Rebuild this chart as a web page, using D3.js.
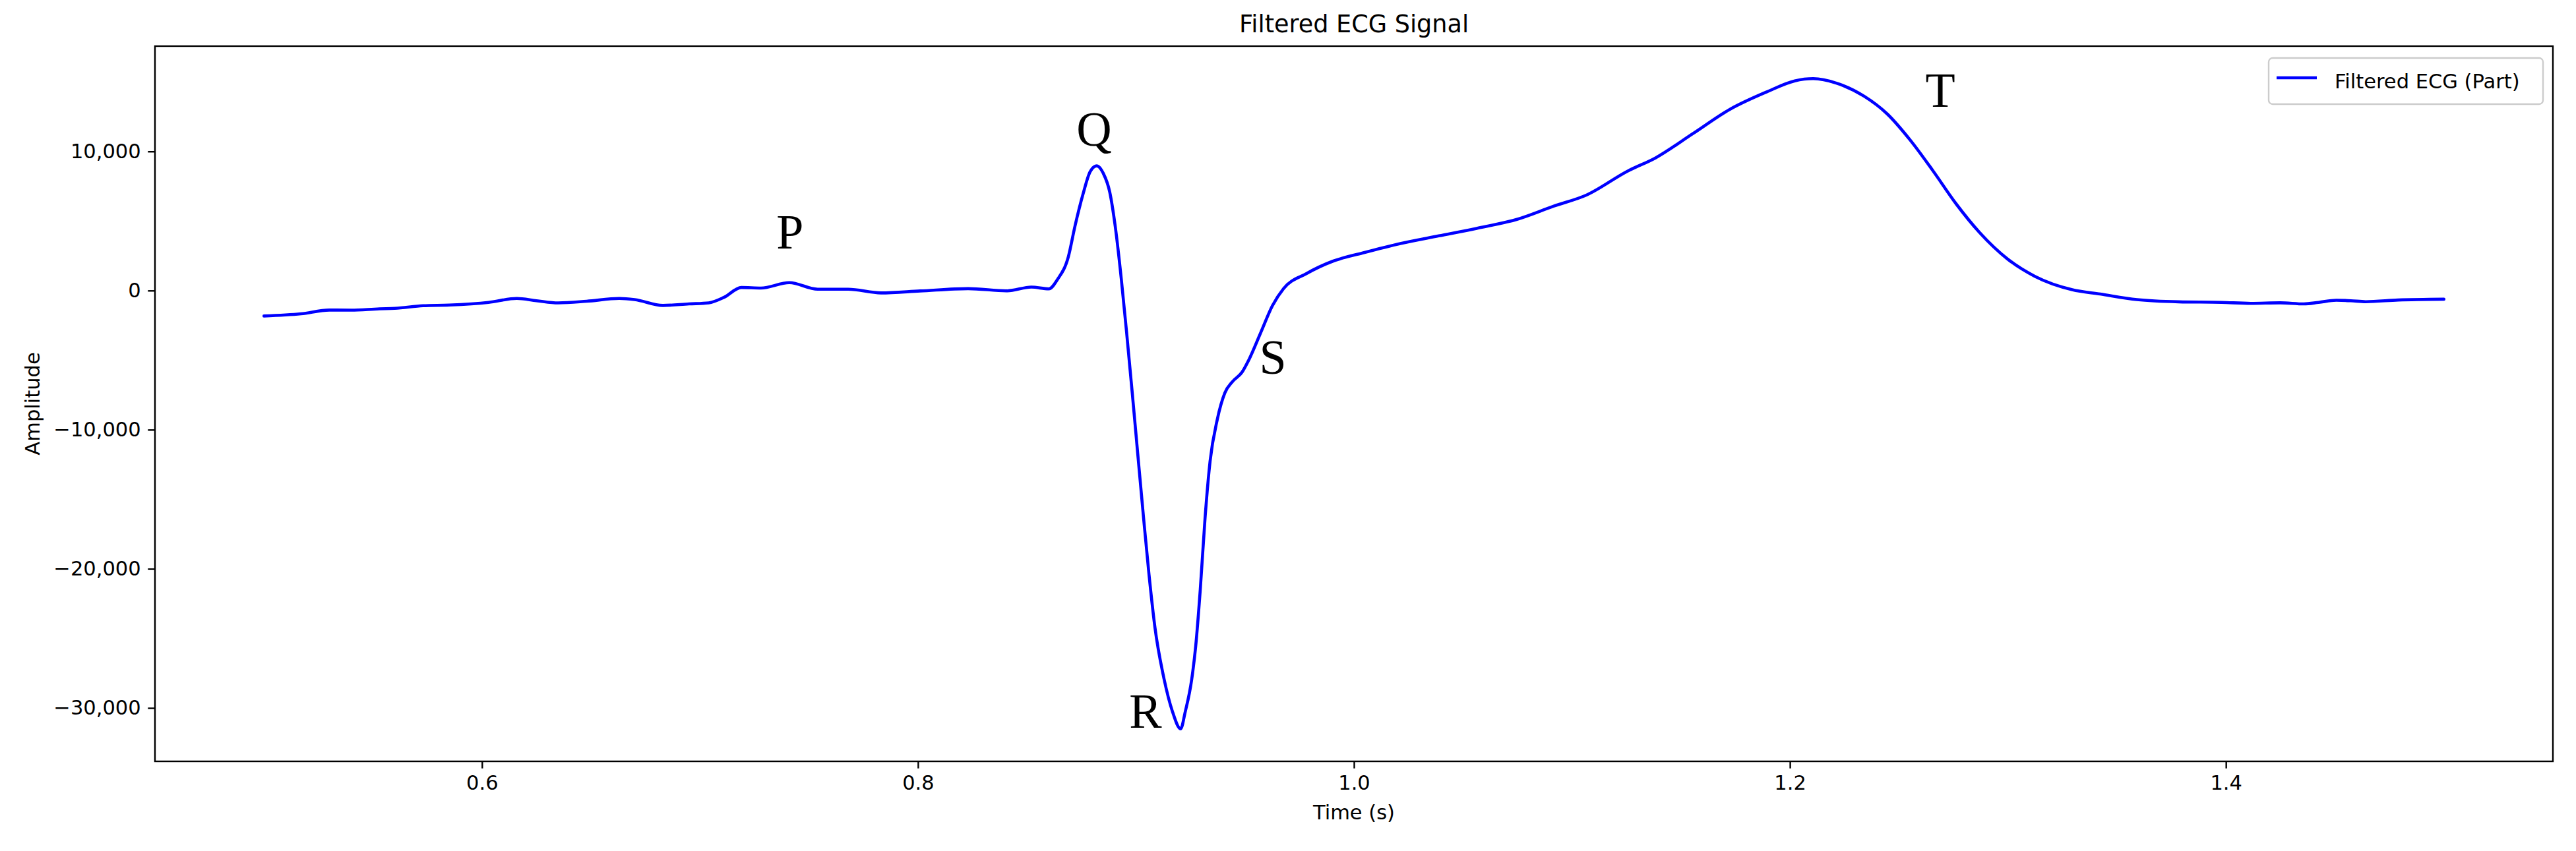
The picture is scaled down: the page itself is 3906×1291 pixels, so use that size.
<!DOCTYPE html>
<html>
<head>
<meta charset="utf-8">
<script src="https://cdn.jsdelivr.net/npm/d3@7"></script>
<style>
  html, body { margin: 0; padding: 0; background: #ffffff; }
  svg { display: block; }
  text { font-family: "DejaVu Sans", sans-serif; fill: #000; }
</style>
</head>
<body>
<svg id="chart" width="3906" height="1291"></svg>
<script>
// ---- data ----
const time = [
  0.500, 0.517, 0.530, 0.540, 0.553, 0.560, 0.573, 0.585, 0.603, 0.616,
  0.625, 0.635, 0.648, 0.663, 0.670, 0.683, 0.695, 0.704, 0.711, 0.719,
  0.728, 0.741, 0.754, 0.768, 0.783, 0.801, 0.823, 0.841, 0.852, 0.860,
  0.864, 0.869, 0.872, 0.8757, 0.879, 0.882, 0.885, 0.888, 0.8905, 0.8933,
  0.8957, 0.8983, 0.9008, 0.9035, 0.906, 0.9087, 0.9129, 0.9168, 0.9205, 0.9226,
  0.9256, 0.9274, 0.9295, 0.9317, 0.9340, 0.9373, 0.9408, 0.9443, 0.9486, 0.952,
  0.9573, 0.9626, 0.9677, 0.9781, 0.9903, 1.004, 1.0216, 1.0389, 1.0563, 1.0748,
  1.0917, 1.1066, 1.1256, 1.1384, 1.1555, 1.1724, 1.1894, 1.2022, 1.2107, 1.2213,
  1.234, 1.2446, 1.2552, 1.2657, 1.2763, 1.287, 1.2998, 1.3125, 1.3295, 1.3423,
  1.3592, 1.3783, 1.398, 1.4114, 1.4249, 1.4358, 1.4425, 1.4506, 1.4573, 1.4641,
  1.479, 1.500
];
const amplitude = [
  -1830, -1670, -1400, -1410, -1310, -1280, -1090, -1040, -850, -570,
  -730, -885, -770, -570, -650, -1070, -960, -885, -490, 220,
  180, 570, 95, 95, -170, -30, 140, -20, 250, 120,
  800, 2440, 4610, 6920, 8550, 8960, 8430, 7060, 4610, 800,
  -2990, -7350, -11700, -16350, -20430, -24200, -27920, -30280, -31500, -30280,
  -27920, -25570, -21500, -16350, -12270, -9270, -7350, -6540, -5880, -4910,
  -3000, -1090, 140, 1210, 2110, 2700, 3390, 3930, 4470, 5120,
  6070, 6860, 8590, 9540, 11280, 13020, 14280, 15070, 15230, 14910,
  13970, 12700, 10810, 8590, 6220, 4170, 2270, 1010, 60, -250,
  -650, -810, -850, -920, -880, -960, -850, -700, -730, -800,
  -680, -620
];
const xTicks = [0.6, 0.8, 1.0, 1.2, 1.4];
const yTicks = [-30000, -20000, -10000, 0, 10000];
const waveLabels = ["P", "Q", "R", "S", "T"];
const waveLabelTime = [0.7413, 0.8808, 0.9044, 0.9628, 1.269];
const waveLabelAmp = [3000, 10400, -31400, -6000, 13200];
const titleText = "Filtered ECG Signal";
const xLabelText = "Time (s)";
const yLabelText = "Amplitude";
const legendText = "Filtered ECG (Part)";

// ---- layout ----
const W = 3906, H = 1291;
const plot = { left: 235, right: 3871, top: 70, bottom: 1155 };
const fs = 30.5;

const svg = d3.select("#chart");

const xExt = d3.extent(time);
const xPad = (xExt[1] - xExt[0]) * 0.05;
const x = d3.scaleLinear().domain([xExt[0] - xPad, xExt[1] + xPad]).range([plot.left, plot.right]);

const yExt = d3.extent(amplitude);
const yPad = (yExt[1] - yExt[0]) * 0.05;
const y = d3.scaleLinear().domain([yExt[0] - yPad, yExt[1] + yPad]).range([plot.bottom, plot.top]);

const data = time.map((t, i) => ({ t, v: amplitude[i] }));

// line
const line = d3.line().x(d => x(d.t)).y(d => y(d.v)).curve(d3.curveMonotoneX);
svg.append("defs").append("clipPath").attr("id", "clip")
  .append("rect").attr("x", plot.left).attr("y", plot.top)
  .attr("width", plot.right - plot.left).attr("height", plot.bottom - plot.top);

svg.append("path").datum(data)
  .attr("clip-path", "url(#clip)")
  .attr("d", line)
  .attr("fill", "none")
  .attr("stroke", "#0000ff")
  .attr("stroke-width", 4.6)
  .attr("stroke-linejoin", "round")
  .attr("stroke-linecap", "round");

// axes
const tickLen = 10.7, tickPad = 10.7;
const xAxis = d3.axisBottom(x).tickValues(xTicks).tickFormat(d3.format(".1f"))
  .tickSize(tickLen).tickPadding(tickPad);
const yAxis = d3.axisLeft(y).tickValues(yTicks).tickFormat(d3.format(","))
  .tickSize(tickLen).tickPadding(tickPad);

const gx = svg.append("g").attr("transform", `translate(0,${plot.bottom})`).call(xAxis);
const gy = svg.append("g").attr("transform", `translate(${plot.left},0)`).call(yAxis);
[gx, gy].forEach(g => {
  g.select(".domain").remove();
  g.selectAll(".tick line").attr("stroke", "#000").attr("stroke-width", 2.4);
  g.selectAll(".tick text").attr("font-family", "DejaVu Sans").attr("font-size", fs).attr("fill", "#000");
});

// frame
svg.append("rect")
  .attr("x", plot.left).attr("y", plot.top)
  .attr("width", plot.right - plot.left).attr("height", plot.bottom - plot.top)
  .attr("fill", "none").attr("stroke", "#000").attr("stroke-width", 2.4);

// wave labels
svg.append("g").selectAll("text").data(waveLabels).join("text")
  .attr("x", (d, i) => x(waveLabelTime[i]))
  .attr("y", (d, i) => y(waveLabelAmp[i]))
  .attr("text-anchor", "middle")
  .style("font-family", "'Liberation Serif', 'Times New Roman', serif")
  .attr("font-size", 74)
  .text(d => d);

// title & axis labels
svg.append("text").attr("x", (plot.left + plot.right) / 2).attr("y", 49)
  .attr("text-anchor", "middle").attr("font-size", 36.6).text(titleText);
svg.append("text").attr("x", (plot.left + plot.right) / 2).attr("y", 1243)
  .attr("text-anchor", "middle").attr("font-size", fs).text(xLabelText);
svg.append("text")
  .attr("transform", `translate(60,${(plot.top + plot.bottom) / 2}) rotate(-90)`)
  .attr("text-anchor", "middle").attr("font-size", fs).text(yLabelText);

// legend
const lg = svg.append("g");
lg.append("rect").attr("x", 3440).attr("y", 88).attr("width", 416).attr("height", 70)
  .attr("rx", 6).attr("fill", "#fff").attr("fill-opacity", 0.8)
  .attr("stroke", "#cccccc").attr("stroke-width", 2.4);
lg.append("line").attr("x1", 3452).attr("x2", 3513).attr("y1", 118).attr("y2", 118)
  .attr("stroke", "#0000ff").attr("stroke-width", 4.6);
lg.append("text").attr("x", 3540).attr("y", 134).attr("font-size", fs).text(legendText);
</script>
</body>
</html>
